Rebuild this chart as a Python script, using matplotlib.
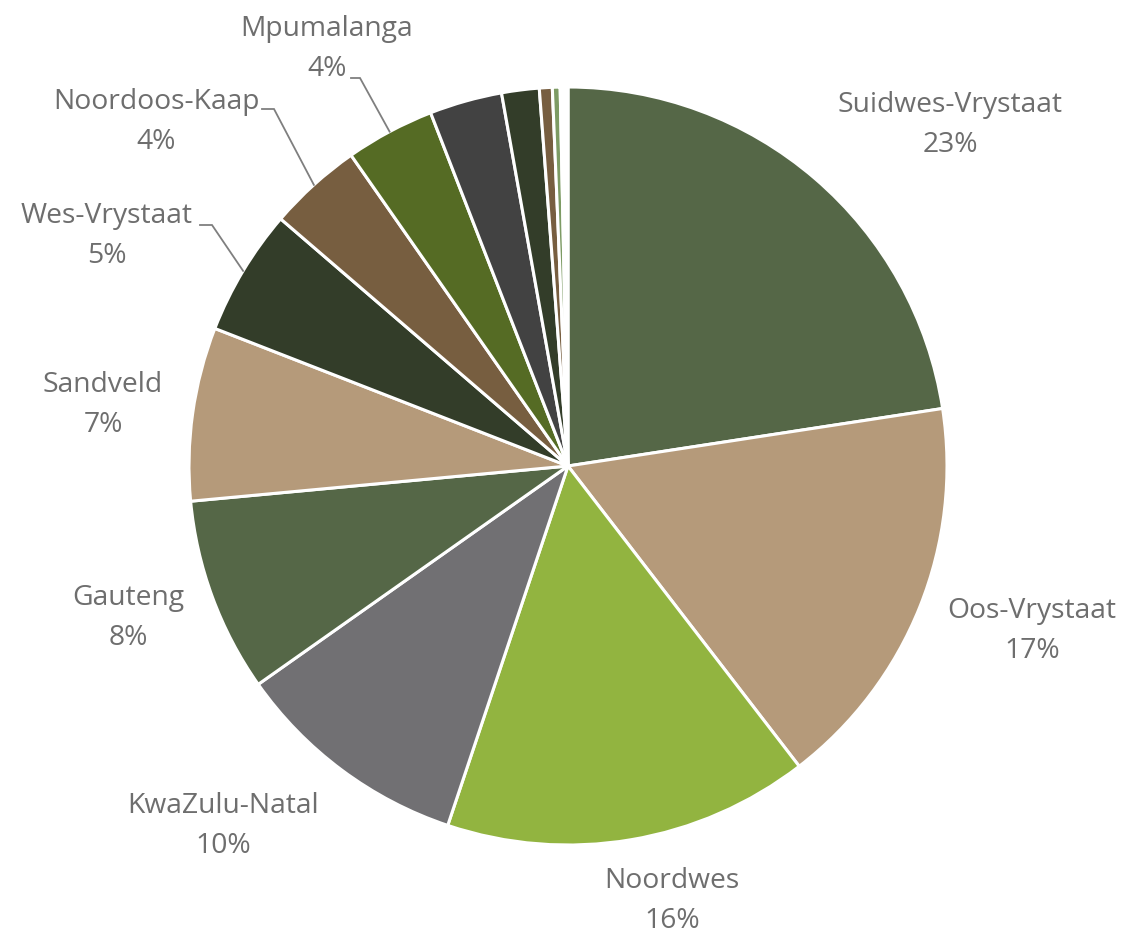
import numpy as np
import matplotlib
matplotlib.use("Agg")
import matplotlib.pyplot as plt

# slice values (percent), clockwise from 12 o'clock
regions = ["Suidwes-Vrystaat", "Oos-Vrystaat", "Noordwes", "KwaZulu-Natal",
           "Gauteng", "Sandveld", "Wes-Vrystaat", "Noordoos-Kaap", "Mpumalanga",
           "", "", "", "", ""]
shares = [22.6, 17.0, 15.6, 10.1, 8.3, 7.4, 5.4, 4.0, 3.8, 3.1, 1.6, 0.55, 0.33, 0.33]
colors = ["#556747", "#b59a7a", "#92b440", "#717073", "#556747", "#b59a7a",
          "#333d29", "#775e40", "#556b24", "#424242", "#333d29", "#775e40",
          "#7d9b64", "#ffffff"]

# label centres in pixel coords (x from left, y from top)
label_pos = {
    "Suidwes-Vrystaat": (950, 125),
    "Oos-Vrystaat": (1032, 631),
    "Noordwes": (672, 901),
    "KwaZulu-Natal": (223, 826),
    "Gauteng": (128, 618),
    "Sandveld": (103, 405),
    "Wes-Vrystaat": (107, 236),
    "Noordoos-Kaap": (156, 122),
    "Mpumalanga": (327, 49),
}
# leader lines: horizontal stub x0..x1 at pixel y, then to the wedge edge
leaders = {"Wes-Vrystaat": (200, 212, 225),
           "Noordoos-Kaap": (262, 274, 109),
           "Mpumalanga": (351, 360, 78)}

W, H = 1128, 938
cx, cy, r = 568, 466, 379

fig = plt.figure(figsize=(W / 100, H / 100), dpi=100)
ax = fig.add_axes([0, 0, 1, 1])

wedges, _ = ax.pie(shares, colors=colors, startangle=90, counterclock=False,
                   center=(cx, H - cy), radius=r,
                   wedgeprops=dict(edgecolor="white", linewidth=2.2))
ax.set_xlim(0, W)
ax.set_ylim(0, H)
ax.set_aspect("equal")
ax.axis("off")

total = sum(shares)
txt_color = "#6e6e6e"
for w, name, v in zip(wedges, regions, shares):
    if not name:
        continue
    lx, ly = label_pos[name]
    pct = round(v / total * 100)
    ax.text(lx, H - ly, f"{name}\n{pct}%", ha="center", va="center",
            fontsize=20.3, color=txt_color, family="Open Sans", linespacing=1.58)
    if name in leaders:
        x0, x1, yp = leaders[name]
        mid = np.deg2rad((w.theta1 + w.theta2) / 2)
        ex = cx + r * np.cos(mid)
        ey = (H - cy) + r * np.sin(mid)
        ax.plot([x0, x1, ex], [H - yp, H - yp, ey], color="#7f7f7f", lw=1.3,
                solid_joinstyle="miter")

fig.savefig("out.png", dpi=100)
